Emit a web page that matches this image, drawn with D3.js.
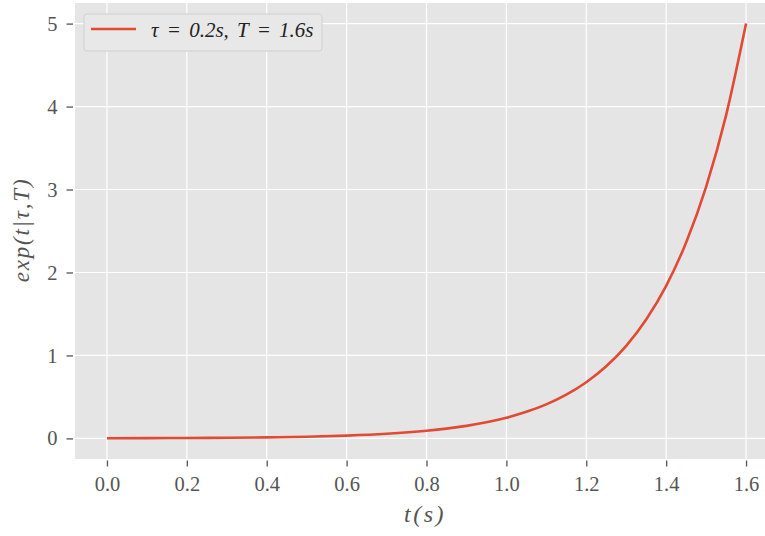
<!DOCTYPE html>
<html>
<head>
<meta charset="utf-8">
<script src="https://cdn.jsdelivr.net/npm/d3@7"></script>
<style>
  body { margin: 0; background: #ffffff; }
  svg text { font-family: "Liberation Serif", "DejaVu Serif", serif; }
</style>
</head>
<body>
<div id="chart"></div>
<script>
// time samples (s) and values
var tValues = [0.0, 0.1, 0.2, 0.3, 0.4, 0.5, 0.6, 0.7, 0.8, 0.85, 0.9, 0.95, 1.0, 1.05, 1.1, 1.15,
               1.2, 1.25, 1.3, 1.35, 1.4, 1.45, 1.5, 1.55, 1.6];
var expValues = [0.002, 0.003, 0.005, 0.008, 0.012, 0.020, 0.034, 0.056, 0.092, 0.118, 0.151, 0.194,
                 0.249, 0.320, 0.410, 0.527, 0.677, 0.869, 1.116, 1.433, 1.839, 2.362, 3.033, 3.894, 5.0];
var xTicks = [0.0, 0.2, 0.4, 0.6, 0.8, 1.0, 1.2, 1.4, 1.6];
var yTicks = [0, 1, 2, 3, 4, 5];
var seriesLabel = "τ = 0.2s, T = 1.6s";

var width = 765, height = 536;
var margin = {left: 75, top: 3, right: -13, bottom: 77};

var svg = d3.select("#chart").append("svg")
  .attr("width", width)
  .attr("height", height);

var x = d3.scaleLinear().domain([-0.08, 1.68]).range([margin.left, width - margin.right]);
var y = d3.scaleLinear().domain([-0.2483, 5.2483]).range([height - margin.bottom, margin.top]);

// axes background
svg.append("rect")
  .attr("x", margin.left).attr("y", margin.top)
  .attr("width", x.range()[1] - margin.left)
  .attr("height", y.range()[0] - margin.top)
  .style("fill", "#e5e5e5");

// grid
svg.selectAll("line.gx").data(xTicks).enter().append("line")
  .attr("class", "gx")
  .attr("x1", function(d) { return x(d); }).attr("x2", function(d) { return x(d); })
  .attr("y1", margin.top).attr("y2", y.range()[0])
  .style("stroke", "#ffffff").style("stroke-width", 1.2);
svg.selectAll("line.gy").data(yTicks).enter().append("line")
  .attr("class", "gy")
  .attr("x1", margin.left).attr("x2", x.range()[1])
  .attr("y1", function(d) { return y(d); }).attr("y2", function(d) { return y(d); })
  .style("stroke", "#ffffff").style("stroke-width", 1.2);

// axes (ticks sit a little away from the axes box)
var xAxis = svg.append("g")
  .attr("transform", "translate(0," + (y.range()[0] + 1.5) + ")")
  .call(d3.axisBottom(x).tickValues(xTicks).tickFormat(d3.format(".1f")).tickSize(6).tickPadding(10));
var yAxis = svg.append("g")
  .attr("transform", "translate(" + (margin.left - 2) + ",0)")
  .call(d3.axisLeft(y).tickValues(yTicks).tickFormat(d3.format("d")).tickSize(6.5).tickPadding(9));
[xAxis, yAxis].forEach(function(a) {
  a.select(".domain").remove();
  a.selectAll(".tick line").style("stroke", "#555555").style("stroke-width", 1.3);
  a.selectAll(".tick text").style("fill", "#555555").style("font-size", "20.5px");
});

// curve
var pts = tValues.map(function(t, i) { return [t, expValues[i]]; });
var line = d3.line()
  .x(function(d) { return x(d[0]); })
  .y(function(d) { return y(d[1]); })
  .curve(d3.curveMonotoneX);
svg.append("path")
  .datum(pts)
  .attr("d", line)
  .style("fill", "none")
  .style("stroke", "#e24a33")
  .style("stroke-width", 2.6);

// axis labels
svg.append("text")
  .attr("x", 425).attr("y", 522)
  .attr("text-anchor", "middle")
  .style("font-size", "24px").style("font-style", "italic").style("fill", "#555555")
  .style("letter-spacing", "2.5px")
  .text("t(s)");
svg.append("text")
  .attr("transform", "translate(29," + (y(2.5) - 1) + ") rotate(-90)")
  .attr("text-anchor", "middle")
  .style("font-size", "23px").style("font-style", "italic").style("fill", "#555555")
  .style("letter-spacing", "1.8px")
  .text("exp(t|τ,T)");

// legend
var lg = svg.append("g");
lg.append("rect")
  .attr("x", 84).attr("y", 14).attr("width", 238).attr("height", 37)
  .attr("rx", 3)
  .style("fill", "#e8e8e8").style("stroke", "#d0d0d0").style("stroke-width", 1);
lg.append("line")
  .attr("x1", 91).attr("x2", 136).attr("y1", 29).attr("y2", 29)
  .style("stroke", "#e24a33").style("stroke-width", 2.6);
lg.append("text")
  .attr("x", 151).attr("y", 37)
  .style("font-size", "21px").style("font-style", "italic").style("fill", "#222222")
  .style("word-spacing", "3px")
  .text(seriesLabel);
</script>
</body>
</html>
